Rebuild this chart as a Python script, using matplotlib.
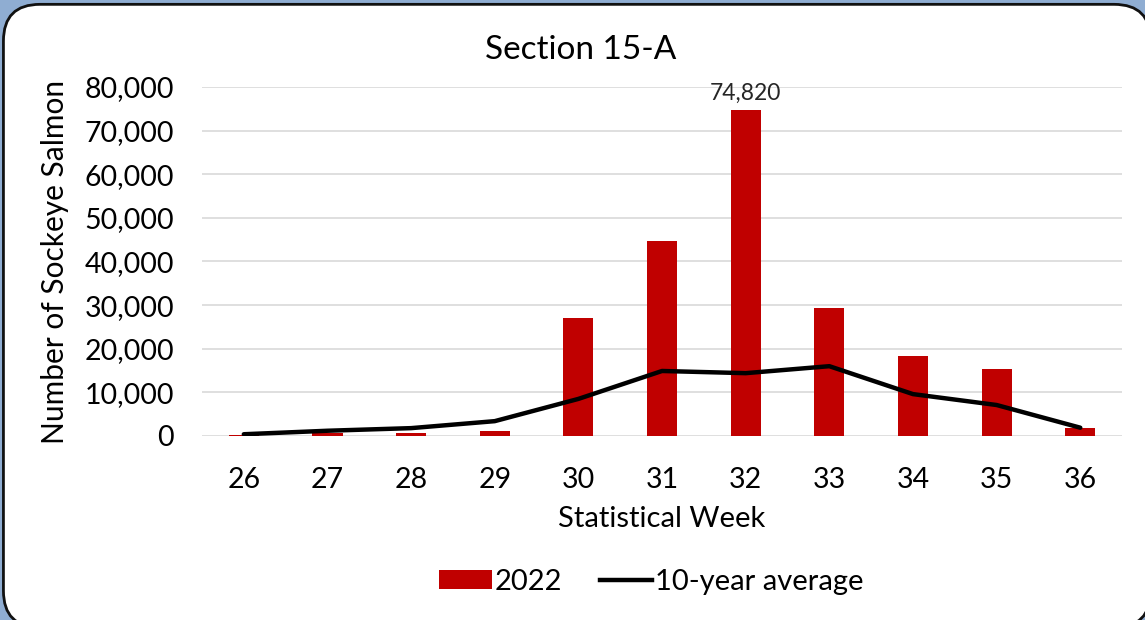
import matplotlib
matplotlib.use("Agg")
import matplotlib.pyplot as plt
from matplotlib.patches import FancyBboxPatch, Patch
from matplotlib.lines import Line2D
from matplotlib.ticker import FuncFormatter

plt.rcParams["font.family"] = ["Lato", "DejaVu Sans"]

weeks = ["26", "27", "28", "29", "30", "31", "32", "33", "34", "35", "36"]
catch_2022 = [300, 700, 600, 1100, 27100, 44700, 74820, 29350, 18350, 15370, 1900]
avg_10yr = [400, 1200, 1800, 3400, 8500, 14900, 14400, 16000, 9600, 7100, 1900]
y_ticks = list(range(0, 80001, 10000))

fig = plt.figure(figsize=(11.45, 6.2), dpi=100)
fig.patch.set_facecolor("#8fadd2")

# rounded white chart frame (runs slightly past the right/bottom edges)
frame = FancyBboxPatch(
    (0.003, -0.012), 1.002, 1.005,
    boxstyle="round,pad=0,rounding_size=0.032",
    transform=fig.transFigure, facecolor="white", edgecolor="#111111",
    linewidth=2, mutation_aspect=1145 / 620, zorder=-10,
)
fig.patches.append(frame)

ax = fig.add_axes([0.1764, 0.2968, 0.8036, 0.5629])
ax.set_facecolor("none")

x = range(len(weeks))
ax.bar(x, catch_2022, width=0.36, color="#c00000", zorder=2)
ax.plot(x, avg_10yr, color="black", linewidth=3.2, solid_capstyle="round", zorder=3)

peak = catch_2022.index(max(catch_2022))
ax.annotate(f"{catch_2022[peak]:,}", (peak, catch_2022[peak]),
            xytext=(0, 4), textcoords="offset points",
            ha="center", va="bottom", fontsize=16.5, color="#262626")

ax.set_xlim(-0.5, len(weeks) - 0.5)
ax.set_ylim(0, 80000)
ax.set_yticks(y_ticks)
ax.yaxis.set_major_formatter(FuncFormatter(lambda v, p: f"{int(v):,}"))
ax.set_xticks(list(x))
ax.set_xticklabels(weeks)
ax.grid(axis="y", color="#d9d9d9", linewidth=1.2, zorder=0)
ax.set_axisbelow(True)
for s in ax.spines.values():
    s.set_visible(False)
ax.tick_params(length=0, labelsize=20.5, colors="black")
ax.tick_params(axis="x", pad=22)
ax.tick_params(axis="y", pad=20)

fig.text(581 / 1145, 1 - 50 / 620, "Section 15-A", fontsize=24, ha="center", va="center")
ax.set_xlabel("Statistical Week", fontsize=21)
ax.xaxis.set_label_coords(0.5, -0.238)
ax.xaxis.label.set_va("center")
ax.set_ylabel("Number of Sockeye Salmon", fontsize=21.5)
ax.yaxis.set_label_coords(-0.16, 0.5)
ax.yaxis.label.set_va("center")

handles = [Patch(facecolor="#c00000"), Line2D([0], [0], color="black", linewidth=3.2)]
fig.legend(handles, ["2022", "10-year average"], loc="center",
           bbox_to_anchor=(0.569, 0.0613), ncol=2, frameon=False, fontsize=21,
           handlelength=1.8, handleheight=0.62, handletextpad=0.1, columnspacing=1.3)

fig.savefig("out.png", dpi=100, facecolor=fig.get_facecolor())
